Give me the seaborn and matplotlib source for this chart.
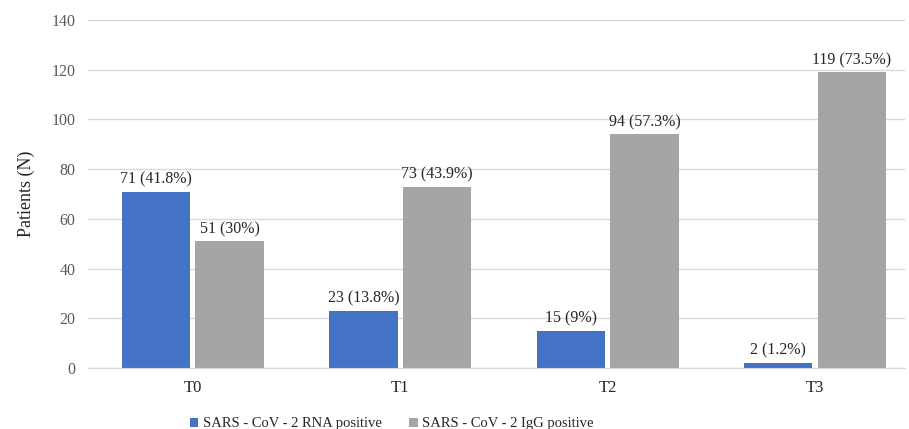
import pandas as pd
import numpy as np

import seaborn as sns
import matplotlib.pyplot as plt

# values
times = ['T0', 'T1', 'T2', 'T3']
series = ['SARS - CoV - 2 RNA positive', 'SARS - CoV - 2 IgG positive']
rna = [71, 23, 15, 2]
rna_pct = ['41.8%', '13.8%', '9%', '1.2%']
igg = [51, 73, 94, 119]
igg_pct = ['30%', '43.9%', '57.3%', '73.5%']
yticks = [0, 20, 40, 60, 80, 100, 120, 140]

df = pd.DataFrame({
    'Time': times * 2,
    'Series': [series[0]] * 4 + [series[1]] * 4,
    'Patients': rna + igg,
})

sns.set_style('white')
plt.rcParams['font.family'] = ['Liberation Serif', 'DejaVu Serif']

fig = plt.figure(figsize=(9.09, 4.29), dpi=100)
ax = fig.add_axes([0.0968, 0.1422, 0.8988, 0.8112])

sns.barplot(data=df, x='Time', y='Patients', hue='Series',
            palette=['#4472C4', '#A5A5A5'], saturation=1, width=0.71, gap=0.07,
            edgecolor='none', ax=ax, legend=True)

# value labels above bars
labels = [f'{v} ({p})' for v, p in zip(rna, rna_pct)] + \
         [f'{v} ({p})' for v, p in zip(igg, igg_pct)]
for cont, labs in zip(ax.containers, [labels[:4], labels[4:]]):
    ax.bar_label(cont, labels=labs, padding=3, fontsize=11.5, color='#262626')

ax.set_ylim(0, 140)
ax.set_xlim(-0.506, 3.434)
ax.set_yticks(yticks)
ax.yaxis.grid(True, color='#D9D9D9', linewidth=1)
ax.set_axisbelow(True)
for s in ['top', 'right', 'left']:
    ax.spines[s].set_visible(False)
ax.spines['bottom'].set_color('#D9D9D9')
ax.tick_params(axis='y', length=0, labelsize=11.5, labelcolor='#595959', pad=9)
ax.tick_params(axis='x', length=0, labelsize=12, labelcolor='#262626', pad=9)
ax.set_xlabel('')
ax.set_ylabel('Patients (N)', fontsize=13, color='#262626', labelpad=12)

ax.get_legend().remove()
handles, lbls = ax.get_legend_handles_labels()
fig.legend(handles[:2], lbls[:2], loc='center', bbox_to_anchor=(0.431, 0.012),
           ncol=2, frameon=False, fontsize=10.5, handlelength=0.6, handleheight=0.6,
           handletextpad=0.3, columnspacing=1.9)

fig.savefig('out.png', dpi=100)
